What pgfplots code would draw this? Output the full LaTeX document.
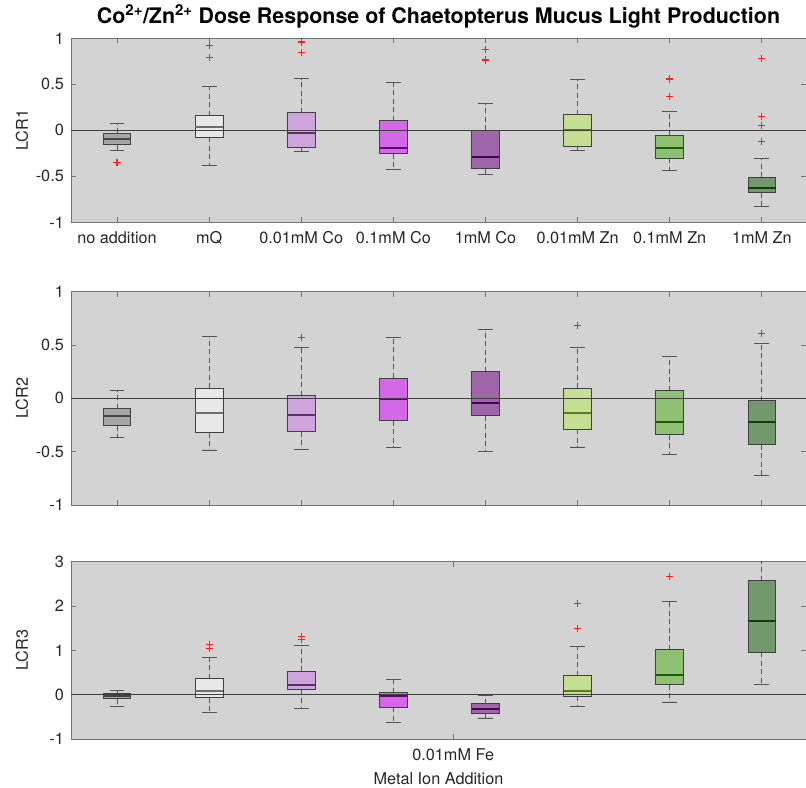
\documentclass[border=0pt]{standalone}
\usepackage{pgfplots}
\pgfplotsset{compat=1.18}
\usepgfplotslibrary{statistics}
\usepackage{fontspec}
\setmainfont{TeX Gyre Heros}

\definecolor{bgc}{RGB}{211,211,211}
\definecolor{axc}{RGB}{115,115,115}
\definecolor{edgec}{RGB}{65,65,65}
\definecolor{whc}{RGB}{85,85,85}
\definecolor{outc}{RGB}{255,30,30}
\definecolor{fA}{RGB}{165,165,165}\definecolor{mA}{RGB}{70,70,70}
\definecolor{fB}{RGB}{232,232,232}\definecolor{mB}{RGB}{110,110,110}
\definecolor{fC}{RGB}{206,164,220}\definecolor{mC}{RGB}{90,50,100}
\definecolor{fD}{RGB}{212,104,232}\definecolor{mD}{RGB}{100,0,120}
\definecolor{fE}{RGB}{160,102,170}\definecolor{mE}{RGB}{70,0,80}
\definecolor{fF}{RGB}{197,223,146}\definecolor{mF}{RGB}{90,120,40}
\definecolor{fG}{RGB}{142,194,114}\definecolor{mG}{RGB}{30,90,10}
\definecolor{fH}{RGB}{114,153,108}\definecolor{mH}{RGB}{20,60,20}

\pgfplotsset{
  panel/.style={
    scale only axis, width=735bp,
    xmin=0.5, xmax=8.48,
    axis background/.style={fill=bgc},
    axis line style={axc, line width=0.9bp},
    tick style={axc, line width=0.9bp},
    major tick length=5bp,
    tick align=inside,
    xtick pos=both, ytick pos=both,
    tick label style={font=\fontsize{16.3}{19}\selectfont, black!85},
    yticklabel style={inner sep=0pt, xshift=-7bp},
    xticklabel style={inner sep=0pt, anchor=north, yshift=-9bp},
    every axis y label/.style={at={(axis description cs:-0.0667,0.5)}, rotate=90, anchor=center, font=\fontsize{16.3}{19}\selectfont, black!85},
    clip=true,
    boxplot/draw direction=y,
    boxplot/box extend=0.3,
    boxplot/whisker extend=0.16,
    boxplot/draw/lower whisker/.code={%
      \draw[whc, line width=0.9bp, dash pattern=on 5bp off 3.5bp]
        (boxplot box cs:\pgfplotsboxplotvalue{lower quartile},0.5) --
        (boxplot box cs:\pgfplotsboxplotvalue{lower whisker},0.5);
      \draw[whc, line width=0.9bp]
        (boxplot whisker cs:\pgfplotsboxplotvalue{lower whisker},0) --
        (boxplot whisker cs:\pgfplotsboxplotvalue{lower whisker},1);
    },
    boxplot/draw/upper whisker/.code={%
      \draw[whc, line width=0.9bp, dash pattern=on 5bp off 3.5bp]
        (boxplot box cs:\pgfplotsboxplotvalue{upper quartile},0.5) --
        (boxplot box cs:\pgfplotsboxplotvalue{upper whisker},0.5);
      \draw[whc, line width=0.9bp]
        (boxplot whisker cs:\pgfplotsboxplotvalue{upper whisker},0) --
        (boxplot whisker cs:\pgfplotsboxplotvalue{upper whisker},1);
    },
  },
  bx/.style n args={2}{fill=#1, draw=edgec, line width=0.9bp, mark=none,
    boxplot/every median/.style={draw=#2, line width=1.9bp}},
  zl/.style={black!75, line width=0.8bp, forget plot, mark=none},
  outl/.style={only marks, mark=+, mark size=3.6bp, color=outc, line width=1.15bp,
    mark options={color=outc, solid}},
}

\begin{document}
\begin{tikzpicture}
\path[use as bounding box] (0,0) rectangle (806bp,-788bp);

% ---------------- Panel 1 ----------------
\begin{axis}[panel, at={(71bp,-38.3bp)}, anchor=north west, height=184bp,
  ymin=-1, ymax=1, ytick={-1,-0.5,0,0.5,1}, yticklabels={-1,-0.5,0,0.5,1},
  xtick={1,2,3,4,5,6,7,8},
  xticklabels={no addition,mQ,0.01mM Co,0.1mM Co,1mM Co,0.01mM Zn,0.1mM Zn,1mM Zn},
  ylabel={LCR1},
  title={Co\textsuperscript{2+}/Zn\textsuperscript{2+} Dose Response of Chaetopterus Mucus Light Production},
  title style={font=\fontsize{21.5}{24}\selectfont\bfseries, at={(0.5,1)}, anchor=base, yshift=9bp, inner sep=0pt},
]
\addplot[bx={fA}{mA}, boxplot prepared={draw position=1, lower whisker=-0.22, lower quartile=-0.156, median=-0.095, upper quartile=-0.03, upper whisker=0.07}] coordinates {};
\addplot[bx={fB}{mB}, boxplot prepared={draw position=2, lower whisker=-0.378, lower quartile=-0.073, median=0.036, upper quartile=0.156, upper whisker=0.48}] coordinates {};
\addplot[bx={fC}{mC}, boxplot prepared={draw position=3, lower whisker=-0.233, lower quartile=-0.182, median=-0.025, upper quartile=0.189, upper whisker=0.56}] coordinates {};
\addplot[bx={fD}{mD}, boxplot prepared={draw position=4, lower whisker=-0.422, lower quartile=-0.255, median=-0.193, upper quartile=0.105, upper whisker=0.516}] coordinates {};
\addplot[bx={fE}{mE}, boxplot prepared={draw position=5, lower whisker=-0.484, lower quartile=-0.418, median=-0.291, upper quartile=0.0, upper whisker=0.291}] coordinates {};
\addplot[bx={fF}{mF}, boxplot prepared={draw position=6, lower whisker=-0.222, lower quartile=-0.178, median=0.0, upper quartile=0.171, upper whisker=0.549}] coordinates {};
\addplot[bx={fG}{mG}, boxplot prepared={draw position=7, lower whisker=-0.44, lower quartile=-0.302, median=-0.189, upper quartile=-0.058, upper whisker=0.2}] coordinates {};
\addplot[bx={fH}{mH}, boxplot prepared={draw position=8, lower whisker=-0.825, lower quartile=-0.68, median=-0.629, upper quartile=-0.509, upper whisker=-0.309}] coordinates {};
\addplot[zl] coordinates {(0,0) (9,0)};
% outliers
\addplot[outl] coordinates {(1,-0.353) (2,0.92) (2,0.789) (3,0.96) (3,0.847) (5,0.88) (5,0.764)
  (7,0.56) (7,0.553) (7,0.371) (8,0.778) (8,0.149) (8,0.055) (8,-0.12)};
\end{axis}

% ---------------- Panel 2 ----------------
\begin{axis}[panel, at={(71bp,-291.7bp)}, anchor=north west, height=213.3bp,
  ymin=-1, ymax=1, ytick={-1,-0.5,0,0.5,1}, yticklabels={-1,-0.5,0,0.5,1},
  xtick={1,2,3,4,5,6,7,8}, xticklabels={},
  ylabel={LCR2},
]
\addplot[bx={fA}{mA}, boxplot prepared={draw position=1, lower whisker=-0.363, lower quartile=-0.256, median=-0.169, upper quartile=-0.097, upper whisker=0.075}] coordinates {};
\addplot[bx={fB}{mB}, boxplot prepared={draw position=2, lower whisker=-0.484, lower quartile=-0.322, median=-0.141, upper quartile=0.097, upper whisker=0.584}] coordinates {};
\addplot[bx={fC}{mC}, boxplot prepared={draw position=3, lower whisker=-0.475, lower quartile=-0.3125, median=-0.156, upper quartile=0.025, upper whisker=0.478}] coordinates {};
\addplot[bx={fD}{mD}, boxplot prepared={draw position=4, lower whisker=-0.4625, lower quartile=-0.209, median=-0.009, upper quartile=0.191, upper whisker=0.572}] coordinates {};
\addplot[bx={fE}{mE}, boxplot prepared={draw position=5, lower whisker=-0.494, lower quartile=-0.1625, median=-0.047, upper quartile=0.25, upper whisker=0.644}] coordinates {};
\addplot[bx={fF}{mF}, boxplot prepared={draw position=6, lower whisker=-0.456, lower quartile=-0.29, median=-0.141, upper quartile=0.094, upper whisker=0.478}] coordinates {};
\addplot[bx={fG}{mG}, boxplot prepared={draw position=7, lower whisker=-0.522, lower quartile=-0.34, median=-0.219, upper quartile=0.072, upper whisker=0.394}] coordinates {};
\addplot[bx={fH}{mH}, boxplot prepared={draw position=8, lower whisker=-0.719, lower quartile=-0.434, median=-0.222, upper quartile=-0.022, upper whisker=0.519}] coordinates {};
\addplot[zl] coordinates {(0,0) (9,0)};
\addplot[outl] coordinates {(3,0.569) (6,0.681) (8,0.606)};
\end{axis}

% ---------------- Panel 3 ----------------
\begin{axis}[panel, at={(71bp,-561.7bp)}, anchor=north west, height=177.3bp,
  ymin=-1, ymax=3, ytick={-1,0,1,2,3}, yticklabels={-1,0,1,2,3},
  xtick={4.65}, xticklabels={0.01mM Fe},
  ylabel={LCR3},
  xlabel={Metal Ion Addition},
  every axis x label/.style={at={(axis description cs:0.5,0)}, anchor=north, yshift=-33bp, inner sep=0pt, font=\fontsize{16.3}{19}\selectfont, black!85},
]
\addplot[bx={fA}{mA}, boxplot prepared={draw position=1, lower whisker=-0.27, lower quartile=-0.09, median=-0.03, upper quartile=0.023, upper whisker=0.105}] coordinates {};
\addplot[bx={fB}{mB}, boxplot prepared={draw position=2, lower whisker=-0.4, lower quartile=-0.068, median=0.083, upper quartile=0.36, upper whisker=0.85}] coordinates {};
\addplot[bx={fC}{mC}, boxplot prepared={draw position=3, lower whisker=-0.316, lower quartile=0.113, median=0.226, upper quartile=0.534, upper whisker=1.12}] coordinates {};
\addplot[bx={fD}{mD}, boxplot prepared={draw position=4, lower whisker=-0.63, lower quartile=-0.286, median=-0.038, upper quartile=0.045, upper whisker=0.346}] coordinates {};
\addplot[bx={fE}{mE}, boxplot prepared={draw position=5, lower whisker=-0.526, lower quartile=-0.414, median=-0.316, upper quartile=-0.203, upper whisker=-0.008}] coordinates {};
\addplot[bx={fF}{mF}, boxplot prepared={draw position=6, lower whisker=-0.256, lower quartile=-0.038, median=0.083, upper quartile=0.429, upper whisker=1.083}] coordinates {};
\addplot[bx={fG}{mG}, boxplot prepared={draw position=7, lower whisker=-0.165, lower quartile=0.226, median=0.451, upper quartile=1.015, upper whisker=2.11}] coordinates {};
\addplot[bx={fH}{mH}, boxplot prepared={draw position=8, lower whisker=0.226, lower quartile=0.955, median=1.67, upper quartile=2.57, upper whisker=3.4}] coordinates {};
\addplot[zl] coordinates {(0,0) (9,0)};
\addplot[outl] coordinates {(2,1.135) (2,1.05) (3,1.31) (3,1.25) (6,2.05) (6,1.49) (7,2.67)};
\end{axis}
\end{tikzpicture}
\end{document}
